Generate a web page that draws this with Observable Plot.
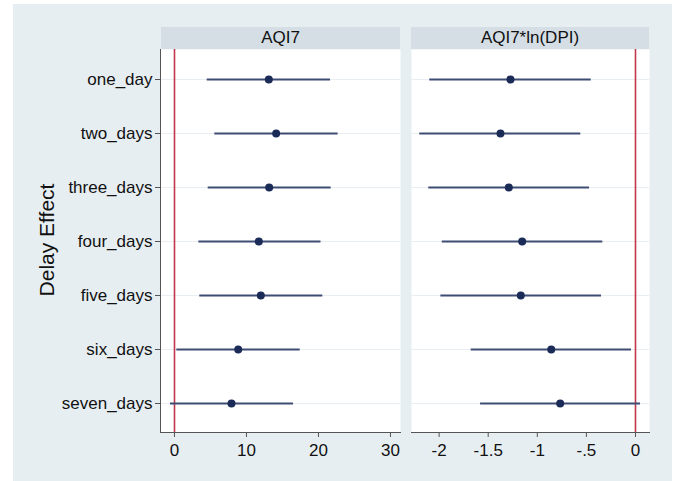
<!DOCTYPE html>
<html>
<head>
<meta charset="utf-8">
<script src="https://cdn.jsdelivr.net/npm/d3@7"></script>
<script src="https://cdn.jsdelivr.net/npm/@observablehq/plot@0.6"></script>
<style>
  html, body { margin: 0; padding: 0; background: #ffffff; }
  #wrap { position: relative; width: 674px; height: 481px; overflow: hidden; background: #ffffff;
          font-family: "Liberation Sans", Arial, Helvetica, sans-serif; }
  #bg { position: absolute; left: 13px; top: 4px; width: 659px; height: 477px; background: #e7eef1; }
  .panel { position: absolute; top: 0; }
  .strip { position: absolute; top: 27px; height: 22px; background: #d5dee5; color: #111;
           font-size: 17px; line-height: 22px; text-align: center; }
  #ylab { position: absolute; left: 47px; top: 240px; transform: translate(-50%, -50%) rotate(-90deg);
          font-size: 21px; color: #111; white-space: nowrap; }
</style>
</head>
<body>
<div id="wrap">
  <div id="bg"></div>
  <div id="p1" class="panel" style="left:0px"></div>
  <div id="p2" class="panel" style="left:411px"></div>
  <div class="strip" style="left:161px; width:239px">AQI7</div>
  <div class="strip" style="left:411px; width:238px">AQI7*ln(DPI)</div>
  <div id="ylab">Delay Effect</div>
</div>
<script>
// ---- data ----
const terms = ["one_day", "two_days", "three_days", "four_days", "five_days", "six_days", "seven_days"];

const aqiCoef = [13.10, 14.12, 13.15, 11.71, 11.99, 8.85, 7.92];
const aqiLo   = [4.54, 5.60, 4.68, 3.38, 3.51, 0.32, -0.56];
const aqiHi   = [21.67, 22.73, 21.76, 20.35, 20.60, 17.46, 16.53];

const intCoef = [-1.273, -1.375, -1.290, -1.154, -1.168, -0.858, -0.767];
const intLo   = [-2.095, -2.197, -2.105, -1.968, -1.982, -1.673, -1.578];
const intHi   = [-0.451, -0.557, -0.468, -0.333, -0.346, -0.041, 0.051];

const xTicks1 = [0, 10, 20, 30];
const xTickLabels1 = ["0", "10", "20", "30"];
const xTicks2 = [-2, -1.5, -1, -0.5, 0];
const xTickLabels2 = ["-2", "-1.5", "-1", "-.5", "0"];

const xDomain1 = [-1.944, 31.39];
const xDomain2 = [-2.281, 0.1426];
const refLine = [0];

const rows1 = terms.map((t, i) => ({term: t, coef: aqiCoef[i], lo: aqiLo[i], hi: aqiHi[i]}));
const rows2 = terms.map((t, i) => ({term: t, coef: intCoef[i], lo: intLo[i], hi: intHi[i]}));

const lineColor = "#3e4d73";
const dotColor = "#1b2b58";
const refColor = "#c0364b";
const gridColor = "#e8eef1";
const axisColor = "#555555";

function panel(rows, domain, ticks, labels, withY, width, marginLeft) {
  const marks = [
    Plot.frame({fill: "#ffffff", stroke: null}),
    Plot.ruleY(terms, {stroke: gridColor, strokeWidth: 1}),
    Plot.ruleX(refLine, {stroke: refColor, strokeWidth: 1.6}),
    Plot.ruleY(rows, {y: "term", x1: "lo", x2: "hi", stroke: lineColor, strokeWidth: 2}),
    Plot.dot(rows, {x: "coef", y: "term", r: 4, fill: dotColor, stroke: null}),
    Plot.axisX({ticks: ticks, tickFormat: d => labels[ticks.indexOf(d)], tickSize: 5, tickPadding: 6,
                fontSize: 17, label: null, stroke: axisColor, fill: "#111"}),
    Plot.frame({anchor: "bottom", stroke: axisColor})
  ];
  if (withY) {
    marks.push(Plot.axisY({tickSize: 5, tickPadding: 3, fontSize: 17, label: null, stroke: axisColor, fill: "#111"}));
    marks.push(Plot.frame({anchor: "left", stroke: axisColor}));
  } else {
    marks.push(Plot.axisY({ticks: [], label: null}));
  }
  return Plot.plot({
    width: width,
    height: 481,
    marginLeft: marginLeft,
    marginRight: 0,
    marginTop: 49,
    marginBottom: 49,
    style: {background: "transparent", fontFamily: "'Liberation Sans', Arial, Helvetica, sans-serif",
            fontSize: "17px", color: "#111", overflow: "visible"},
    x: {domain: domain},
    y: {type: "point", domain: terms, padding: 0.5},
    marks: marks
  });
}

document.getElementById("p1").appendChild(panel(rows1, xDomain1, xTicks1, xTickLabels1, true, 400, 160));
document.getElementById("p2").appendChild(panel(rows2, xDomain2, xTicks2, xTickLabels2, false, 238, 0));
</script>
</body>
</html>
